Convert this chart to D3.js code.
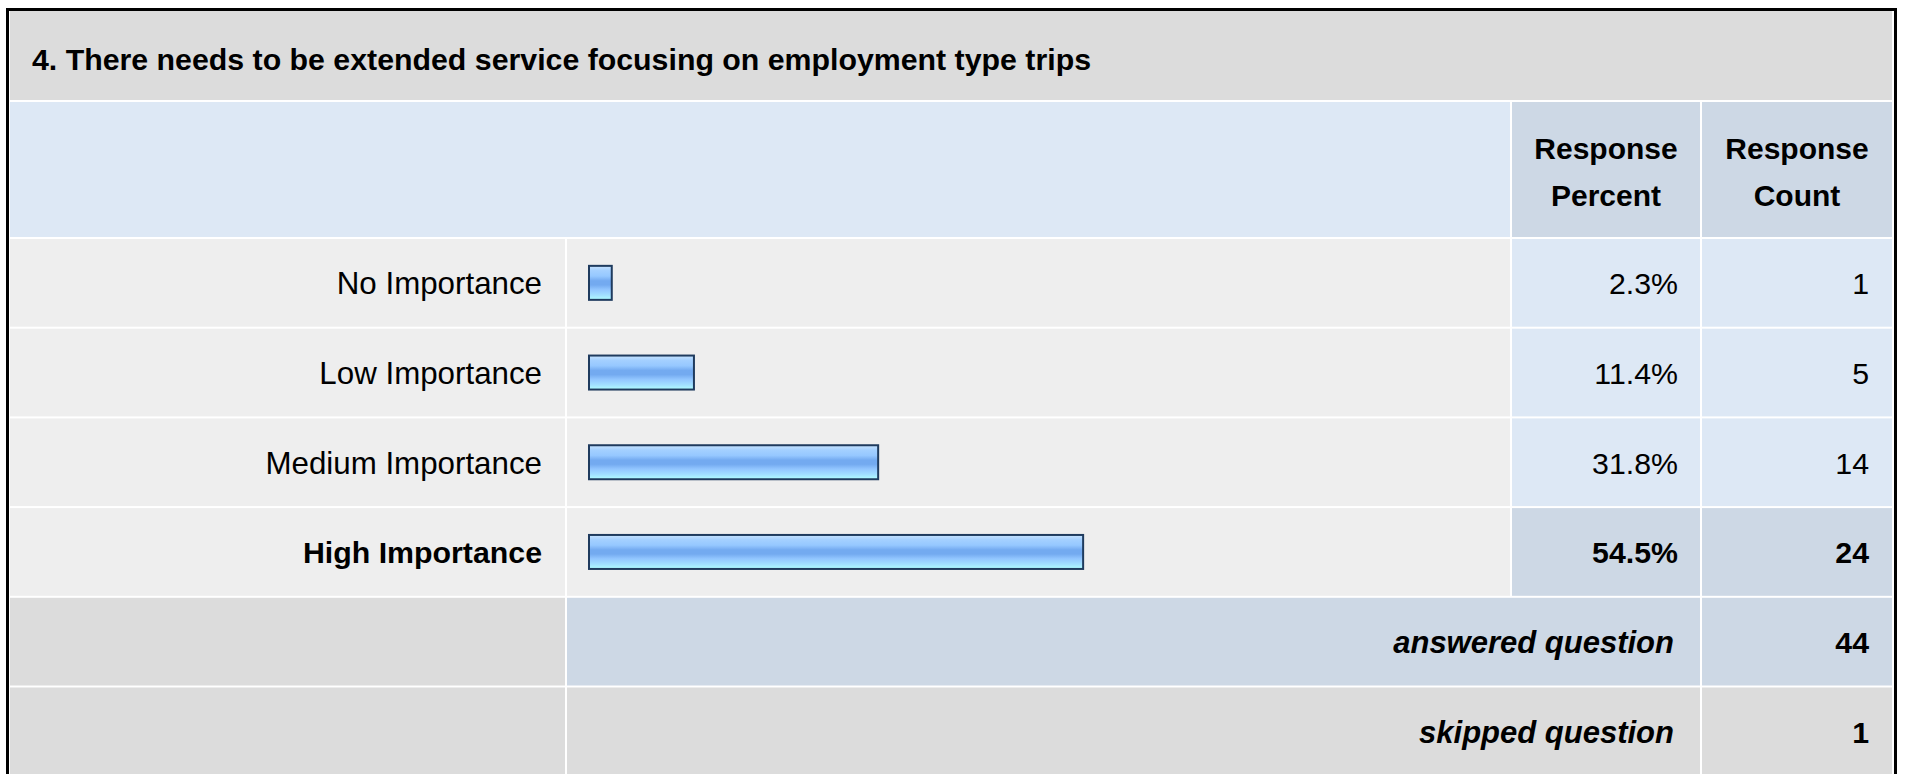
<!DOCTYPE html>
<html>
<head>
<meta charset="utf-8">
<script src="https://cdn.jsdelivr.net/npm/d3@7"></script>
<style>
  body { margin: 0; background: #fff; }
  text { font-family: "Liberation Sans", Arial, sans-serif; fill: #000; }
</style>
</head>
<body>
<div id="chart"></div>
<script>
// survey question data
const questionTitle = '4. There needs to be extended service focusing on employment type trips';
const answers = ['No Importance', 'Low Importance', 'Medium Importance', 'High Importance'];
const percents = [2.3, 11.4, 31.8, 54.5];
const counts = [1, 5, 14, 24];
const headerLines = [['Response', 'Percent'], ['Response', 'Count']];
const summaryLabels = ['answered question', 'skipped question'];
const summaryCounts = [44, 1];

const width = 1907, height = 774;

// column edges of the table
const col = {
    label: [10, 565],
    bar: [567, 1510],
    pct: [1512, 1700],
    cnt: [1702, 1892]
};

// rows: answers then the two summary rows
const rowNames = answers.concat(summaryLabels);
const y = d3.scaleBand()
    .domain(rowNames)
    .range([238, 238 + rowNames.length * 89.7]);

// bar length in percent
const x = d3.scaleLinear()
    .domain([0, 100])
    .range([0, 903]);

const maxCount = d3.max(counts);

const svg = d3.select('#chart').append('svg')
    .attr('width', width)
    .attr('height', height);

// gradient for the glossy bars
const grad = svg.append('defs').append('linearGradient')
    .attr('id', 'barFill')
    .attr('x1', 0).attr('x2', 0).attr('y1', 0).attr('y2', 1);
[['0%', '#c8e4ff'], ['14%', '#a4d0ff'], ['30%', '#96c8ff'], ['44%', '#73aaf0'],
 ['56%', '#73aaf0'], ['70%', '#92c6ff'], ['86%', '#a2e0ff'], ['100%', '#b0ffff']]
    .forEach(s => grad.append('stop').attr('offset', s[0]).attr('stop-color', s[1]));

// outer frame
svg.append('rect')
    .attr('x', 7.5).attr('y', 9.5)
    .attr('width', 1888).attr('height', 800)
    .attr('fill', '#fff')
    .attr('stroke', '#000')
    .attr('stroke-width', 3);

function cell(x0, x1, y0, y1, fill) {
    svg.append('rect')
        .attr('x', x0).attr('y', y0)
        .attr('width', x1 - x0).attr('height', y1 - y0)
        .attr('fill', fill);
}

// title band
cell(10, 1892, 11, 100, '#dcdcdc');
svg.append('text')
    .attr('x', 32).attr('y', 70)
    .attr('font-size', 30.3)
    .attr('font-weight', 'bold')
    .text(questionTitle);

// header row
cell(10, col.bar[1], 102, 237, '#dde8f5');
[col.pct, col.cnt].forEach((c, i) => {
    cell(c[0], c[1], 102, 237, '#cdd8e5');
    headerLines[i].forEach((line, j) => {
        svg.append('text')
            .attr('x', (c[0] + c[1]) / 2)
            .attr('y', 159 + j * 47)
            .attr('text-anchor', 'middle')
            .attr('font-size', 30)
            .attr('font-weight', 'bold')
            .text(line);
    });
});

// answer rows
answers.forEach((a, i) => {
    const y0 = y(a) + 1, y1 = y(a) + y.bandwidth() - 1;
    const mid = (y0 + y1) / 2;
    const top = counts[i] === maxCount;
    const weight = top ? 'bold' : 'normal';
    cell(col.label[0], col.label[1], y0, y1, '#eeeeee');
    cell(col.bar[0], col.bar[1], y0, y1, '#eeeeee');
    cell(col.pct[0], col.pct[1], y0, y1, top ? '#cdd8e5' : '#dde8f5');
    cell(col.cnt[0], col.cnt[1], y0, y1, top ? '#cdd8e5' : '#dde8f5');

    svg.append('text')
        .attr('x', 542).attr('y', mid + 11.5)
        .attr('text-anchor', 'end')
        .attr('font-size', top ? 30.3 : 31.3)
        .attr('font-weight', weight)
        .text(a);

    svg.append('rect')
        .attr('x', 589).attr('y', mid - 17)
        .attr('width', x(percents[i]) + 2).attr('height', 34)
        .attr('fill', 'url(#barFill)')
        .attr('stroke', '#1f3b5e')
        .attr('stroke-width', 2);

    svg.append('text')
        .attr('x', 1678).attr('y', mid + 11.5)
        .attr('text-anchor', 'end')
        .attr('font-size', 30.3)
        .attr('font-weight', weight)
        .text(percents[i].toFixed(1) + '%');

    svg.append('text')
        .attr('x', 1869).attr('y', mid + 11.5)
        .attr('text-anchor', 'end')
        .attr('font-size', 30.3)
        .attr('font-weight', weight)
        .text(counts[i]);
});

// answered / skipped rows
summaryLabels.forEach((s, i) => {
    const y0 = y(s) + 1, y1 = y(s) + y.bandwidth() - 1;
    const mid = (y0 + y1) / 2;
    const fill = i === 0 ? '#cdd8e5' : '#dcdcdc';
    cell(col.label[0], col.label[1], y0, y1, '#dcdcdc');
    cell(col.bar[0], col.pct[1], y0, y1, fill);
    cell(col.cnt[0], col.cnt[1], y0, y1, fill);

    svg.append('text')
        .attr('x', 1674).attr('y', mid + 11.5)
        .attr('text-anchor', 'end')
        .attr('font-size', 31)
        .attr('font-weight', 'bold')
        .attr('font-style', 'italic')
        .text(s);

    svg.append('text')
        .attr('x', 1869).attr('y', mid + 11.5)
        .attr('text-anchor', 'end')
        .attr('font-size', 30.3)
        .attr('font-weight', 'bold')
        .text(summaryCounts[i]);
});
</script>
</body>
</html>
